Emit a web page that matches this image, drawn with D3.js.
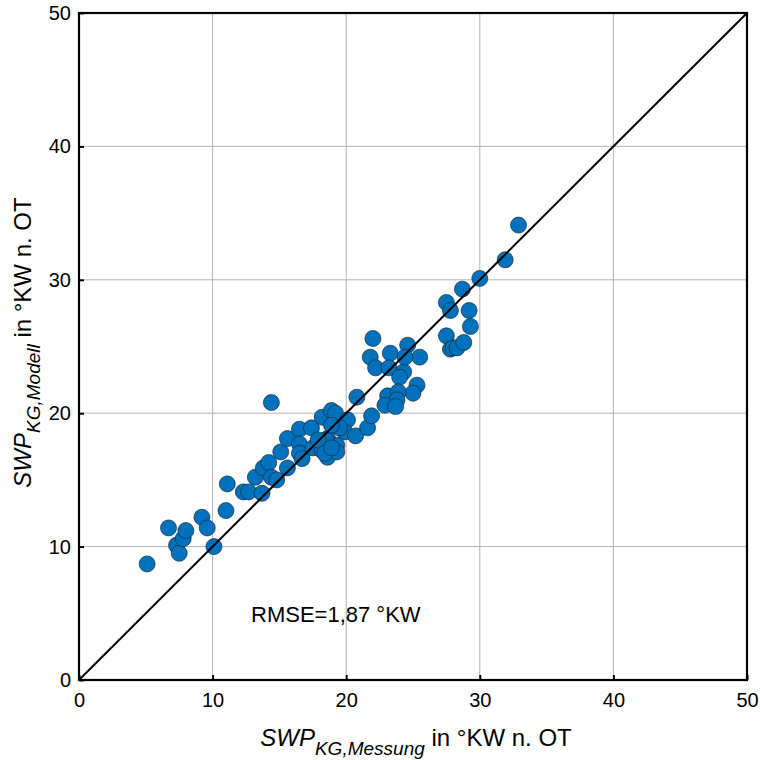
<!DOCTYPE html>
<html>
<head>
<meta charset="utf-8">
<script src="https://cdn.jsdelivr.net/npm/d3@7"></script>
<style>
  body { margin: 0; background: #fff; }
  svg text { font-family: "Liberation Sans", Arial, sans-serif; }
</style>
</head>
<body>
<script>
// measured vs model, °KW n. OT
const measured = [5.1, 6.7, 7.3, 7.5, 7.8, 8.0, 9.2, 9.6, 10.1, 11.0, 11.1, 12.3, 12.7, 13.2, 13.7, 13.8, 14.2, 14.4, 14.8, 15.1,
  15.6, 15.6, 16.5, 16.5, 16.5, 16.7, 17.4, 17.5, 14.4, 18.2, 18.9, 19.2, 20.1, 19.9, 18.6, 19.3, 18.2, 18.6, 19.3, 20.7,
  21.6, 21.9, 20.8, 19.5, 18.5, 18.9, 17.9, 18.4, 18.9, 22.0, 21.8, 23.3, 24.6, 25.5, 22.2, 23.2, 24.3, 24.0, 25.3, 25.0,
  23.1, 23.9, 23.8, 22.9, 23.7, 24.4, 32.9, 31.9, 30.0, 28.7, 27.5, 27.8, 29.2, 29.3, 27.5, 27.8, 28.0, 28.3, 28.8];
const model = [8.7, 11.4, 10.1, 9.5, 10.6, 11.2, 12.2, 11.4, 10.0, 12.7, 14.7, 14.1, 14.1, 15.2, 14.0, 15.9, 16.3, 15.2, 15.0, 17.1,
  18.1, 15.9, 18.8, 17.7, 17.0, 16.6, 18.9, 17.4, 20.8, 19.7, 20.2, 20.0, 19.5, 18.6, 18.1, 17.6, 17.2, 16.7, 17.1, 18.3,
  18.9, 19.8, 21.2, 18.9, 18.0, 19.1, 18.0, 17.0, 17.4, 25.6, 24.2, 24.5, 25.1, 24.2, 23.4, 23.4, 23.1, 22.7, 22.1, 21.5,
  21.3, 21.6, 21.0, 20.6, 20.5, 24.2, 34.1, 31.5, 30.1, 29.3, 28.3, 27.7, 27.7, 26.5, 25.8, 24.8, 24.9, 24.9, 25.3];
const ticks = [0, 10, 20, 30, 40, 50];
const rmseLabel = "RMSE=1,87 °KW";

const W = 760, H = 760;
const m = { left: 79, right: 13, top: 13, bottom: 80 };

const svg = d3.select("body").append("svg")
  .attr("width", W).attr("height", H);

const x = d3.scaleLinear().domain([0, 50]).range([m.left, W - m.right]);
const y = d3.scaleLinear().domain([0, 50]).range([H - m.bottom, m.top]);

// grid
const grid = svg.append("g").attr("stroke", "#b3b3b3").attr("stroke-width", 1);
grid.selectAll(".gx").data(ticks.slice(1, -1)).enter().append("line")
  .attr("x1", d => x(d)).attr("x2", d => x(d))
  .attr("y1", y(0)).attr("y2", y(50));
grid.selectAll(".gy").data(ticks.slice(1, -1)).enter().append("line")
  .attr("y1", d => y(d)).attr("y2", d => y(d))
  .attr("x1", x(0)).attr("x2", x(50));

// points
const pts = measured.map((v, i) => [v, model[i]]);
svg.append("g").selectAll("circle").data(pts).enter().append("circle")
  .attr("cx", d => x(d[0])).attr("cy", d => y(d[1]))
  .attr("r", 8)
  .attr("fill", "#0072bd")
  .attr("stroke", "#1c2a36").attr("stroke-width", 0.7);

// 1:1 line
svg.append("line")
  .attr("x1", x(0)).attr("y1", y(0)).attr("x2", x(50)).attr("y2", y(50))
  .attr("stroke", "#000").attr("stroke-width", 2);

// axes (ticks inward)
const xAxis = d3.axisBottom(x).tickValues(ticks).tickSize(-5).tickPadding(13);
const yAxis = d3.axisLeft(y).tickValues(ticks).tickSize(-5).tickPadding(8);
const gx = svg.append("g").attr("transform", `translate(0,${y(0)})`).call(xAxis);
const gy = svg.append("g").attr("transform", `translate(${x(0)},0)`).call(yAxis);
[gx, gy].forEach(g => {
  g.select(".domain").remove();
  g.selectAll(".tick line").attr("stroke", "#000").attr("stroke-width", 2);
  g.selectAll(".tick text").attr("font-size", 20).attr("fill", "#000")
    .attr("font-family", "Liberation Sans, Arial, sans-serif");
});

// frame
svg.append("rect")
  .attr("x", x(0)).attr("y", y(50))
  .attr("width", x(50) - x(0)).attr("height", y(0) - y(50))
  .attr("fill", "none").attr("stroke", "#000").attr("stroke-width", 2.2);

// rmse
svg.append("text").attr("x", 251).attr("y", 622)
  .attr("font-size", 22).text(rmseLabel);

// axis labels
const xl = svg.append("text").attr("x", 416).attr("y", 746)
  .attr("text-anchor", "middle").attr("font-size", 24);
xl.append("tspan").attr("font-style", "italic").text("SWP");
xl.append("tspan").attr("font-style", "italic").attr("font-size", 19).attr("dy", 9).text("KG,Messung");
xl.append("tspan").attr("dy", -9).text(" in °KW n. OT");

const yl = svg.append("text")
  .attr("transform", `translate(31,${(y(0) + y(50)) / 2 - 4}) rotate(-90)`)
  .attr("text-anchor", "middle").attr("font-size", 24);
yl.append("tspan").attr("font-style", "italic").text("SWP");
yl.append("tspan").attr("font-style", "italic").attr("font-size", 19).attr("dy", 9).text("KG,Modell");
yl.append("tspan").attr("dy", -9).text(" in °KW n. OT");
</script>
</body>
</html>
